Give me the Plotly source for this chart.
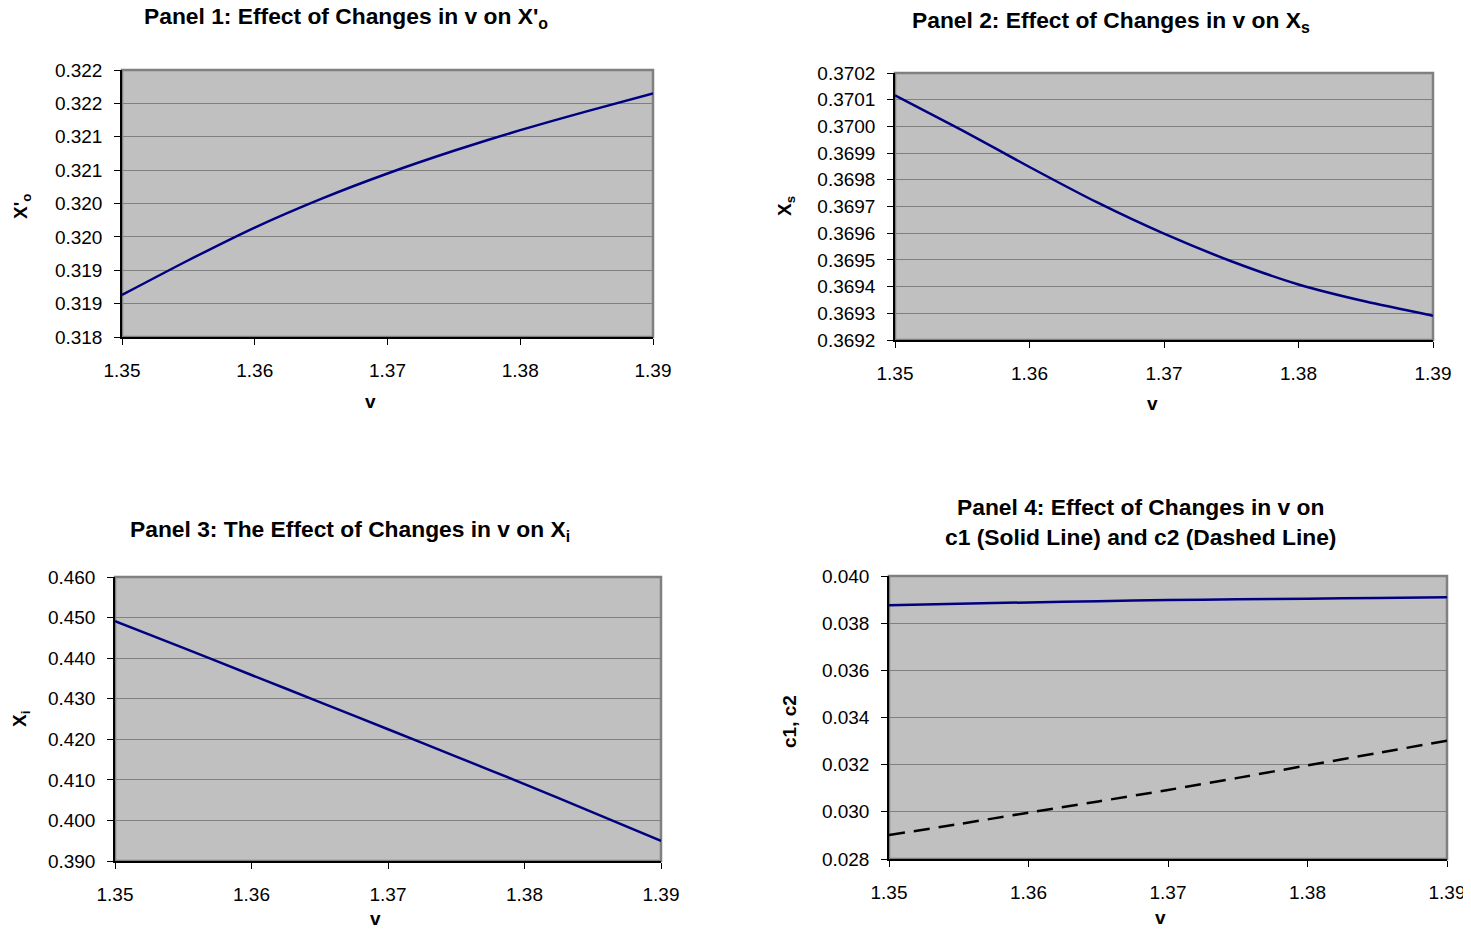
import plotly.graph_objects as go

# ---------------- data ----------------
v = [1.35, 1.355, 1.36, 1.365, 1.37, 1.375, 1.38, 1.385, 1.39]
x_o = [0.31863, 0.31915, 0.31964, 0.32007, 0.32045, 0.32079, 0.32110, 0.32138, 0.32165]
x_s = [0.370116, 0.369985, 0.369848, 0.369716, 0.369598, 0.369495, 0.369408, 0.369344, 0.369291]
x_i = [0.44911, 0.44252, 0.43584, 0.42918, 0.42248, 0.41574, 0.40896, 0.40200, 0.39495]
c1 = [0.038756, 0.03882, 0.03888, 0.03893, 0.03898, 0.03901, 0.03904, 0.03907, 0.039095]
c2 = [0.029018, 0.02948, 0.029965, 0.03044, 0.030926, 0.03144, 0.03197, 0.03249, 0.033018]

x_ticks = [1.35, 1.36, 1.37, 1.38, 1.39]
p1_ticks = [0.318, 0.3185, 0.319, 0.3195, 0.320, 0.3205, 0.321, 0.3215, 0.322]
p1_labels = ["0.318", "0.319", "0.319", "0.320", "0.320", "0.321", "0.321", "0.322", "0.322"]
p2_ticks = [0.3692, 0.3693, 0.3694, 0.3695, 0.3696, 0.3697, 0.3698, 0.3699, 0.3700, 0.3701, 0.3702]
p3_ticks = [0.390, 0.400, 0.410, 0.420, 0.430, 0.440, 0.450, 0.460]
p4_ticks = [0.028, 0.030, 0.032, 0.034, 0.036, 0.038, 0.040]

titles = [
    "Panel 1: Effect of Changes in v on X'<sub>o</sub>",
    "Panel 2: Effect of Changes in v on X<sub>s</sub>",
    "Panel 3: The Effect of Changes in v on X<sub>i</sub>",
    "Panel 4: Effect of Changes in v on<br>c1 (Solid Line) and c2 (Dashed Line)",
]
y_titles = ["X'<sub>o</sub>", "X<sub>s</sub>", "X<sub>i</sub>", "c1, c2"]

# ---------------- layout geometry (pixels, in viewport coordinates) ----------------
OFF = 8                      # page body margin
W, H = 1471 - OFF, 933 - 2 * OFF
FONT = "Liberation Sans, Arial, sans-serif"
NAVY = "#000080"

# plot areas: (left, right, top, bottom)
areas = [(122, 653, 70, 337), (895, 1433, 73, 340), (115, 661, 577, 861), (889, 1447, 576, 859)]


def px(x):
    return (x - OFF) / W


def py(y):
    return 1 - (y - OFF) / H


fig = go.Figure()

solid = dict(color=NAVY, width=2.5, shape="spline", smoothing=0.6)
fig.add_trace(go.Scatter(x=v, y=x_o, mode="lines", line=solid, xaxis="x", yaxis="y", showlegend=False))
fig.add_trace(go.Scatter(x=v, y=x_s, mode="lines", line=solid, xaxis="x2", yaxis="y2", showlegend=False))
fig.add_trace(go.Scatter(x=v, y=x_i, mode="lines", line=solid, xaxis="x3", yaxis="y3", showlegend=False))
fig.add_trace(go.Scatter(x=v, y=c1, mode="lines", line=solid, xaxis="x4", yaxis="y4", showlegend=False))
fig.add_trace(go.Scatter(x=v, y=c2, mode="lines",
                         line=dict(color="black", width=2.5, dash="16px,9px", shape="spline", smoothing=0.6),
                         xaxis="x4", yaxis="y4", showlegend=False))

ycfg = [
    dict(range=[0.318, 0.322], tickvals=p1_ticks, ticktext=p1_labels),
    dict(range=[0.3692, 0.3702], tickvals=p2_ticks, ticktext=[f"{t:.4f}" for t in p2_ticks]),
    dict(range=[0.390, 0.460], tickvals=p3_ticks, ticktext=[f"{t:.3f}" for t in p3_ticks]),
    dict(range=[0.028, 0.040], tickvals=p4_ticks, ticktext=[f"{t:.3f}" for t in p4_ticks]),
]

layout = dict(
    width=W, height=H,
    margin=dict(l=0, r=0, t=0, b=0, pad=0, autoexpand=False),
    paper_bgcolor="white",
    plot_bgcolor="#C0C0C0",
    font=dict(family=FONT, size=19, color="black"),
    showlegend=False,
)

tick_font = dict(family=FONT, size=19, color="black")
shapes = []
annotations = []
for i, (l, r, t, b) in enumerate(areas):
    sfx = "" if i == 0 else str(i + 1)
    xa = dict(
        domain=[px(l), px(r)], anchor="y" + sfx, range=[1.35, 1.39], automargin=False,
        tickvals=x_ticks, ticktext=[f"{t:.2f}" for t in x_ticks],
        showgrid=False, zeroline=False, showline=True, linecolor="black", linewidth=1.5,
        ticks="outside", ticklen=6, tickcolor="black", tickwidth=1,
        tickfont=tick_font, ticklabelstandoff=9, ticklabeloverflow="allow",
    )
    ya = dict(
        domain=[py(b), py(t)], anchor="x" + sfx, automargin=False,
        showgrid=True, gridcolor="#808080", gridwidth=1, zeroline=False,
        showline=True, linecolor="black", linewidth=1.5,
        ticks="outside", ticklen=6, tickcolor="black", tickwidth=1,
        tickfont=tick_font, ticklabelstandoff=8,
        **ycfg[i],
    )
    layout["xaxis" + sfx] = xa
    layout["yaxis" + sfx] = ya
    # grey border of the plot area (top/right)
    shapes.append(dict(type="rect", xref=f"x{sfx} domain", yref=f"y{sfx} domain",
                       x0=0, x1=1, y0=0, y1=1, line=dict(color="#808080", width=2.5),
                       layer="below"))

# panel titles
title_pos = [(346, 18), (1111, 21), (350, 530), (1140, 522)]
for (x, y), txt in zip(title_pos, titles):
    annotations.append(dict(text="<b>" + txt + "</b>", x=px(x), y=py(y), xref="paper", yref="paper",
                            xanchor="center", yanchor="middle", showarrow=False,
                            font=dict(family=FONT, size=22.8, color="black")))
# x axis titles
for x, y in [(370, 401), (1152, 403), (375, 918), (1160, 917)]:
    annotations.append(dict(text="<b>v</b>", x=px(x), y=py(y), xref="paper", yref="paper",
                            xanchor="center", yanchor="middle", showarrow=False,
                            font=dict(family=FONT, size=19, color="black")))
# y axis titles
for (x, y), txt in zip([(22, 207), (786, 206), (21, 719), (789, 722)], y_titles):
    annotations.append(dict(text=f"<b>{txt}</b>", x=px(x), y=py(y), xref="paper", yref="paper",
                            xanchor="center", yanchor="middle", showarrow=False, textangle=-90,
                            font=dict(family=FONT, size=19, color="black")))

layout["shapes"] = shapes
layout["annotations"] = annotations
fig.update_layout(**layout)

fig.write_html("out.html")
